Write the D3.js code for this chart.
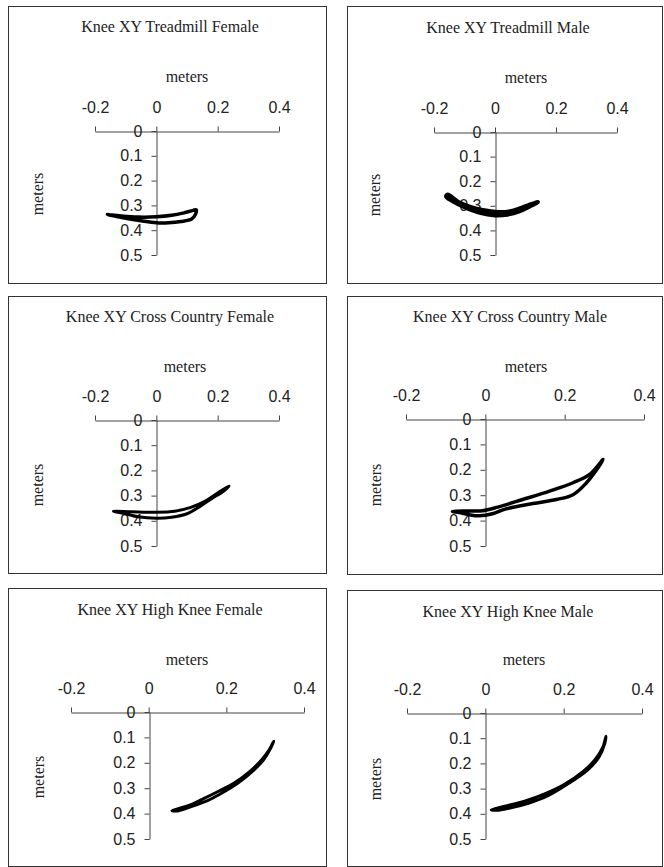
<!DOCTYPE html>
<html><head><meta charset="utf-8">
<script src="https://cdn.jsdelivr.net/npm/d3@7"></script>
<style>body{margin:0;background:#fff}</style>
</head><body><svg id="c" width="664" height="867"></svg>
<script>
// ---- data ----
const titles = [
  "Knee XY Treadmill Female", "Knee XY Treadmill Male",
  "Knee XY Cross Country Female", "Knee XY Cross Country Male",
  "Knee XY High Knee Female", "Knee XY High Knee Male"
];
const axisTitle = "meters";
const xTicks = [-0.2, 0, 0.2, 0.4];
const yTicks = [0, 0.1, 0.2, 0.3, 0.4, 0.5];
const xTickLabels = ["-0.2", "0", "0.2", "0.4"];
const yTickLabels = ["0", "0.1", "0.2", "0.3", "0.4", "0.5"];

const treadmillFemaleX = [-0.16,-0.12,-0.06,0,0.05,0.09,0.12,0.13,0.128,0.115,0.08,0.04,0,-0.05,-0.10,-0.14];
const treadmillFemaleY = [0.337,0.342,0.347,0.346,0.340,0.330,0.320,0.318,0.335,0.355,0.365,0.370,0.370,0.362,0.352,0.342];

const treadmillMaleX = [-0.155,-0.12,-0.08,-0.04,0,0.04,0.08,0.11,0.14,0.12,0.08,0.04,0,-0.05,-0.10,-0.14,-0.16];
const treadmillMaleY = [0.255,0.285,0.305,0.318,0.325,0.325,0.312,0.298,0.285,0.298,0.322,0.335,0.338,0.328,0.305,0.28,0.262];

const crossFemaleX = [-0.14,-0.08,0,0.06,0.11,0.16,0.2,0.237,0.22,0.18,0.14,0.1,0.05,0,-0.06,-0.1,-0.13];
const crossFemaleY = [0.362,0.364,0.366,0.362,0.348,0.322,0.29,0.262,0.282,0.312,0.345,0.372,0.386,0.39,0.384,0.372,0.365];

const crossMaleX = [-0.083,-0.04,-0.007,0.031,0.094,0.162,0.221,0.263,0.297,0.284,0.255,0.221,0.179,0.12,0.052,0.018,-0.015,-0.04,-0.066];
const crossMaleY = [0.364,0.362,0.361,0.347,0.317,0.284,0.251,0.218,0.159,0.192,0.251,0.298,0.317,0.333,0.354,0.373,0.381,0.377,0.368];

const highFemaleX = [0.06,0.1,0.14,0.18,0.22,0.26,0.29,0.31,0.322,0.315,0.295,0.27,0.23,0.19,0.15,0.11,0.07];
const highFemaleY = [0.388,0.37,0.342,0.312,0.28,0.235,0.19,0.15,0.115,0.14,0.19,0.23,0.28,0.318,0.35,0.372,0.39];

const highMaleX = [0.015,0.05,0.1,0.15,0.2,0.25,0.28,0.30,0.308,0.305,0.29,0.26,0.21,0.16,0.11,0.06,0.03];
const highMaleY = [0.384,0.37,0.35,0.322,0.285,0.232,0.185,0.135,0.092,0.12,0.175,0.228,0.282,0.328,0.358,0.378,0.386];

const seriesX = [treadmillFemaleX, treadmillMaleX, crossFemaleX, crossMaleX, highFemaleX, highMaleX];
const seriesY = [treadmillFemaleY, treadmillMaleY, crossFemaleY, crossMaleY, highFemaleY, highMaleY];

// ---- layout (positions / styles) ----
const layout = [
  {box:[8,6,326,283],   xr:[95,279],  yr:[131,255], t:[170,32],  xt:[187,82],  yt:[43,194],  sw:3.5},
  {box:[347,6,662,283], xr:[434,617], yr:[132,255], t:[508,33],  xt:[526,83],  yt:[380,195], sw:4.5},
  {box:[8,296,326,573], xr:[95,279],  yr:[420,546], t:[170,322], xt:[185,372], yt:[43,485],  sw:3},
  {box:[347,296,662,574],xr:[406,644],yr:[419,546], t:[510,322], xt:[526,372], yt:[381,485], sw:3.5},
  {box:[8,588,326,866], xr:[71,304],  yr:[712,839], t:[170,615], xt:[187,665], yt:[44,777],  sw:3},
  {box:[347,590,662,866],xr:[407,642],yr:[713,839], t:[508,617], xt:[524,665], yt:[381,779], sw:3}
];

const svg = d3.select("#c");
const serif = "'Liberation Serif','Times New Roman',serif";
const sans = "'Liberation Sans',Arial,sans-serif";

layout.forEach((L, i) => {
  const g = svg.append("g");
  g.append("rect")
    .attr("x", L.box[0] + 0.5).attr("y", L.box[1] + 0.5)
    .attr("width", L.box[2] - L.box[0]).attr("height", L.box[3] - L.box[1])
    .attr("fill", "none").attr("stroke", "#333").attr("stroke-width", 1);

  const x = d3.scaleLinear().domain([xTicks[0], xTicks[xTicks.length-1]]).range(L.xr);
  const y = d3.scaleLinear().domain([yTicks[0], yTicks[yTicks.length-1]]).range(L.yr);

  g.append("text").attr("x", L.t[0]).attr("y", L.t[1])
    .attr("text-anchor", "middle").attr("font-family", serif).attr("font-size", 16)
    .attr("fill", "#222").text(titles[i]);
  g.append("text").attr("x", L.xt[0]).attr("y", L.xt[1])
    .attr("text-anchor", "middle").attr("font-family", serif).attr("font-size", 16)
    .attr("fill", "#222").text(axisTitle);
  g.append("text").attr("transform", `translate(${L.yt[0]},${L.yt[1]}) rotate(-90)`)
    .attr("text-anchor", "middle").attr("font-family", serif).attr("font-size", 16)
    .attr("fill", "#222").text(axisTitle);

  const xAxis = d3.axisTop(x).tickValues(xTicks)
    .tickFormat((d, k) => xTickLabels[k]).tickSize(5).tickSizeOuter(0).tickPadding(14);
  const yAxis = d3.axisLeft(y).tickValues(yTicks)
    .tickFormat((d, k) => yTickLabels[k]).tickSize(5).tickSizeOuter(0).tickPadding(9);

  const gx = g.append("g").attr("transform", `translate(0,${Math.round(y(0))+0.5})`).call(xAxis);
  const gy = g.append("g").attr("transform", `translate(${Math.round(x(0))+0.5},0)`).call(yAxis);
  [gx, gy].forEach(a => {
    a.selectAll("path,line").attr("stroke", "#444").attr("stroke-width", 1);
    a.selectAll("text").attr("font-family", sans).attr("font-size", 16).attr("fill", "#222");
  });

  const pts = seriesX[i].map((v, k) => [v, seriesY[i][k]]);
  const line = d3.line().x(d => x(d[0])).y(d => y(d[1])).curve(d3.curveCatmullRomClosed.alpha(0.5));
  g.append("path").attr("d", line(pts)).attr("fill", "none")
    .attr("stroke", "#000").attr("stroke-width", L.sw).attr("stroke-linejoin", "round");
});
</script>
</body></html>
